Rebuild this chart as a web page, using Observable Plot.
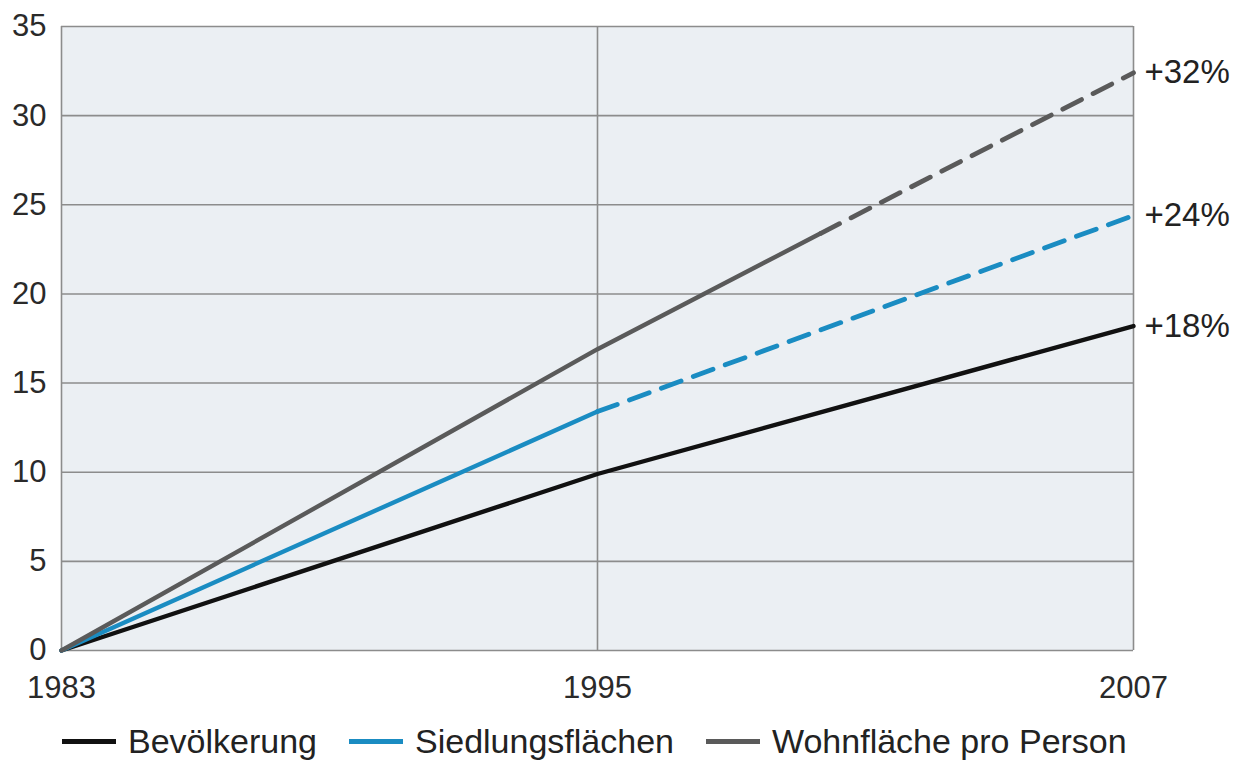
<!DOCTYPE html>
<html><head><meta charset="utf-8">
<script src="https://cdn.jsdelivr.net/npm/d3@7"></script>
<script src="https://cdn.jsdelivr.net/npm/@observablehq/plot@0.6"></script>
<style>
body{margin:0;background:#fff;font-family:"Liberation Sans",Arial,sans-serif;}
#legend{display:flex;align-items:center;padding-left:62px;height:50px;font-size:34px;color:#222;margin-top:4px;}
.item{display:flex;align-items:center;margin-right:32px;}
.sw{width:54px;height:5px;margin-right:12px;}
</style></head>
<body><div id="chart"></div><div id="legend"></div>
<script>
const seriesNames = ["Bevölkerung", "Siedlungsflächen", "Wohnfläche pro Person"];
const colors = ["#111111", "#1a8cc2", "#5a5a5a"];
// values: change in % since 1983
const bevYears = [1983, 1995, 2007];
const bevValues = [0, 9.9, 18.2];
const siedYears = [1983, 1995, 2007];
const siedValues = [0, 13.4, 24.4];
const wohnYears = [1983, 1995, 2000, 2007];
const wohnValues = [0, 16.9, 23.4, 32.4];
const endLabels = ["+18%", "+24%", "+32%"];
const xTicks = [1983, 1995, 2007];
const yTicks = [0, 5, 10, 15, 20, 25, 30, 35];

const pts = (ys, vs, name) => ys.map((y, i) => ({year: y, value: vs[i], series: name}));
const bev = pts(bevYears, bevValues, seriesNames[0]);
const sied = pts(siedYears, siedValues, seriesNames[1]);
const wohn = pts(wohnYears, wohnValues, seriesNames[2]);

const solid = [...bev, ...sied.slice(0, 2), ...wohn.slice(0, 3)];
const dashedSied = sied.slice(1);
const dashedWohn = wohn.slice(2);
const ends = [bev[bev.length-1], sied[sied.length-1], wohn[wohn.length-1]].map((d, i) => ({...d, label: endLabels[i]}));

const chart = Plot.plot({
  width: 1239, height: 712,
  marginLeft: 61, marginRight: 106, marginTop: 26, marginBottom: 62,
  style: {fontFamily: '"Liberation Sans", Arial, sans-serif', fontSize: "31px", color: "#2a2a2a"},
  x: {domain: [1983, 2007], ticks: xTicks, tickFormat: d => String(d), tickSize: 0, tickPadding: 25, label: null},
  y: {domain: [0, 35], ticks: yTicks, tickSize: 0, tickPadding: 15, label: null},
  color: {domain: seriesNames, range: colors},
  marks: [
    Plot.frame({fill: "#ebeff3", stroke: "none"}),
    Plot.ruleY(yTicks, {stroke: "#8c8c8c", strokeWidth: 1.6}),
    Plot.ruleX(xTicks, {stroke: "#8c8c8c", strokeWidth: 1.6}),
    Plot.line(solid, {x: "year", y: "value", z: "series", stroke: "series", strokeWidth: 4.4}),
    Plot.line(dashedSied, {x: "year", y: "value", stroke: "series", strokeWidth: 4.8, strokeDasharray: "21,13"}),
    Plot.line(dashedWohn, {x: "year", y: "value", stroke: "series", strokeWidth: 4.8, strokeDasharray: "21,13"}),
    Plot.text(ends, {x: "year", y: "value", text: "label", textAnchor: "start", dx: 11, fill: "#222", fontSize: 33})
  ]
});
document.getElementById("chart").append(chart);

const lg = document.getElementById("legend");
seriesNames.forEach((n, i) => {
  const it = document.createElement("div"); it.className = "item";
  const sw = document.createElement("div"); sw.className = "sw"; sw.style.background = colors[i];
  const t = document.createElement("span"); t.textContent = n;
  it.append(sw, t); lg.append(it);
});
</script></body></html>
